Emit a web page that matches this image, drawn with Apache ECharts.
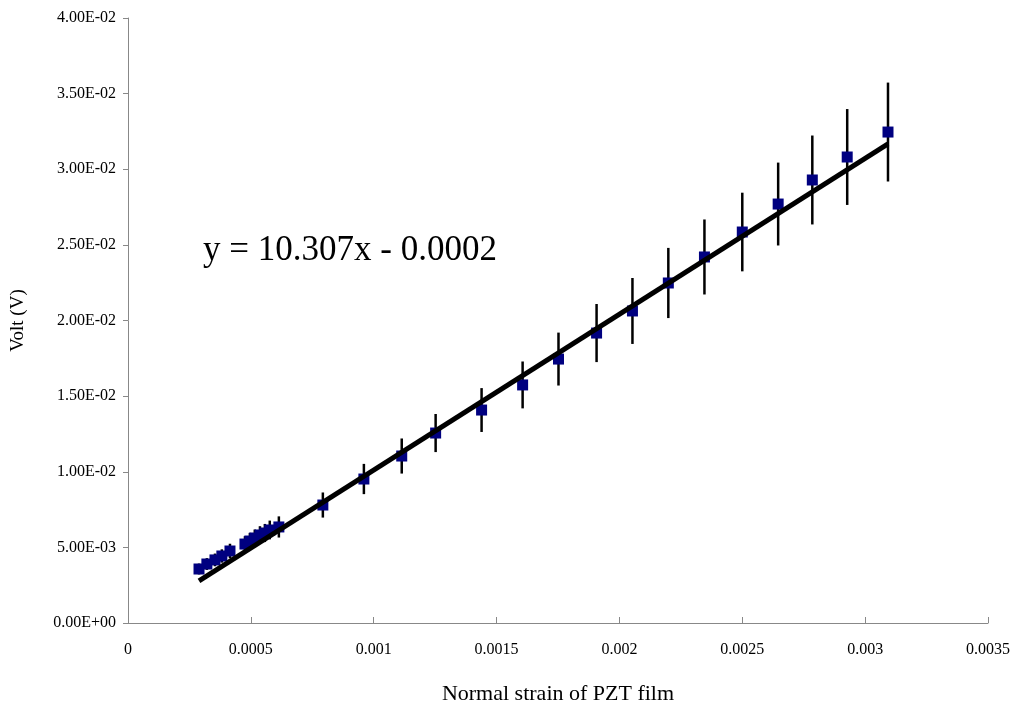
<!DOCTYPE html>
<html>
<head>
<meta charset="utf-8">
<script src="https://cdn.jsdelivr.net/npm/echarts@6/dist/echarts.min.js"></script>
<style>html,body{margin:0;padding:0;background:#fff}#c{width:1024px;height:714px}</style>
</head>
<body>
<div id="c"></div>
<script>
// Normal strain of PZT film (x), measured voltage (y), error (half bar)
const strain = [0.000289, 0.000321, 0.000354, 0.000382, 0.000415, 0.000476, 0.000496, 0.000516, 0.000537, 0.000557, 0.000577, 0.000614,
  0.000793, 0.000960, 0.001114, 0.001252, 0.001439, 0.001606, 0.001752, 0.001907, 0.002053, 0.002199, 0.002346, 0.002500, 0.002646, 0.002785, 0.002927, 0.003093];
const volt = [0.00357, 0.00390, 0.00417, 0.00443, 0.00476, 0.00522, 0.00542, 0.00562, 0.00582, 0.00595, 0.00615, 0.00635,
  0.00780, 0.00952, 0.01104, 0.01256, 0.01408, 0.01574, 0.01745, 0.01917, 0.02063, 0.02248, 0.02420, 0.02585, 0.02770, 0.02929, 0.03081, 0.03246];
const voltErr = [0.00036, 0.00039, 0.00042, 0.00044, 0.00048, 0.00052, 0.00054, 0.00056, 0.00058, 0.00060, 0.00062, 0.00070,
  0.00083, 0.00100, 0.00116, 0.00126, 0.00145, 0.00155, 0.00175, 0.00192, 0.00218, 0.00232, 0.00248, 0.00260, 0.00274, 0.00294, 0.00317, 0.00327];
const fitSlope = 10.307;
const fitIntercept = -0.0002;
const fitLabel = 'y = 10.307x - 0.0002';
const xTickLabels = ['0', '0.0005', '0.001', '0.0015', '0.002', '0.0025', '0.003', '0.0035'];
const yTickLabels = ['0.00E+00', '5.00E-03', '1.00E-02', '1.50E-02', '2.00E-02', '2.50E-02', '3.00E-02', '3.50E-02', '4.00E-02'];

const points = strain.map((x, i) => [x, volt[i]]);
const errData = strain.map((x, i) => [x, volt[i] - voltErr[i], volt[i] + voltErr[i]]);
const xFirst = strain[0], xLast = strain[strain.length - 1];
const fitLine = [[xFirst, fitSlope * xFirst + fitIntercept], [xLast, fitSlope * xLast + fitIntercept]];

const font = '"Liberation Serif", "DejaVu Serif", serif';
const chart = echarts.init(document.getElementById('c'));
chart.setOption({
  animation: false,
  backgroundColor: '#fff',
  grid: { left: 128, right: 36, top: 18, bottom: 91, containLabel: false, outerBoundsMode: 'none' },
  xAxis: {
    type: 'value', min: 0, max: 0.0035, interval: 0.0005,
    name: 'Normal strain of PZT film', nameLocation: 'middle', nameGap: 60,
    nameTextStyle: { fontFamily: font, fontSize: 22, color: '#000' },
    axisLine: { show: true, lineStyle: { color: '#888', width: 1 } },
    axisTick: { show: true, inside: true, length: 6, lineStyle: { color: '#888' } },
    axisLabel: { fontFamily: font, fontSize: 16, color: '#000', margin: 19,
      formatter: v => xTickLabels[Math.round(v / 0.0005)] },
    splitLine: { show: false }
  },
  yAxis: {
    type: 'value', min: 0, max: 0.04, interval: 0.005,
    name: 'Volt (V)', nameLocation: 'middle', nameGap: 100, nameRotate: 90,
    nameTextStyle: { fontFamily: font, fontSize: 19, color: '#000' },
    axisLine: { show: true, lineStyle: { color: '#888', width: 1 } },
    axisTick: { show: true, inside: false, length: 5, lineStyle: { color: '#888' } },
    axisLabel: { fontFamily: font, fontSize: 16, color: '#000', margin: 12,
      formatter: v => yTickLabels[Math.round(v / 0.005)] },
    splitLine: { show: false }
  },
  series: [
    {
      type: 'custom', z: 2,
      renderItem: function (params, api) {
        const p1 = api.coord([api.value(0), api.value(1)]);
        const p2 = api.coord([api.value(0), api.value(2)]);
        return { type: 'line', shape: { x1: p1[0], y1: p1[1], x2: p2[0], y2: p2[1] },
          style: { stroke: '#000', lineWidth: 2.5 } };
      },
      encode: { x: 0, y: [1, 2] },
      data: errData
    },
    {
      type: 'scatter', z: 3, symbol: 'rect', symbolSize: 11,
      itemStyle: { color: '#000080', opacity: 1 },
      data: points
    },
    {
      type: 'line', z: 4, symbol: 'none',
      lineStyle: { color: '#000', width: 5 },
      data: fitLine
    }
  ],
  graphic: [{
    type: 'text', left: 203, top: 233,
    style: { text: fitLabel, font: '35px ' + font, fill: '#000' }
  }]
});
</script>
</body>
</html>
